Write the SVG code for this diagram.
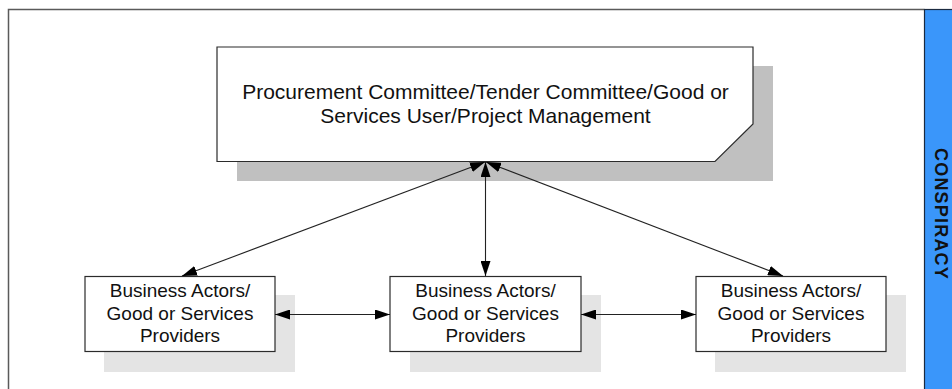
<svg xmlns="http://www.w3.org/2000/svg" width="952" height="389" viewBox="0 0 952 389">
<defs>
<style>
.node{fill:#fff;stroke:#2b2b2b;stroke-width:1.2}
.sh1{fill:#c0c0c0}
.sh2{fill:#e4e4e4}
.t{font-family:"Liberation Sans",Arial,sans-serif;fill:#111;text-anchor:middle}
.big{font-size:21px}
.small{font-size:19px}
.conn line{stroke:#222;stroke-width:1.1;marker-start:url(#ah);marker-end:url(#ah)}
</style>
<marker id="ah" viewBox="0 0 15 10" refX="15" refY="5" markerWidth="15" markerHeight="10" orient="auto-start-reverse" markerUnits="userSpaceOnUse">
<path d="M0,0 L15,5 L0,10 z" fill="#000"/>
</marker>
</defs>
<rect width="952" height="389" fill="#fff"/>
<g id="frame">
<path d="M8.5,395 V9.5 H924.5" fill="none" stroke="#5a5a5a" stroke-width="1.5"/>
<rect x="924.5" y="9.5" width="40" height="390" fill="#3a96fa" stroke="#1b2a40" stroke-width="1.2"/>
<text class="t" x="941" y="214" font-size="18" font-weight="bold" letter-spacing="1.2" fill="#1a1f3a" dominant-baseline="central" transform="rotate(90 941 214)">CONSPIRACY</text>
</g>
<g id="committee">
<rect class="sh1" x="237" y="66" width="536" height="115"/>
<path class="node" d="M217,47 H753 V124 L715,161.5 H217 Z"/>
<text class="t big" x="485.5" y="98.5">Procurement Committee/Tender Committee/Good or</text>
<text class="t big" x="485.5" y="122.5">Services User/Project Management</text>
</g>
<g id="provider-left">
<rect class="sh2" x="104" y="295" width="191" height="77"/>
<rect class="node" x="85" y="276.5" width="190" height="75"/>
<text class="t small" x="180" y="297">Business Actors/</text>
<text class="t small" x="180" y="319.5">Good or Services</text>
<text class="t small" x="180" y="342">Providers</text>
</g>
<g id="provider-middle">
<rect class="sh2" x="410" y="295" width="191" height="77"/>
<rect class="node" x="390" y="276.5" width="191" height="75"/>
<text class="t small" x="485.5" y="297">Business Actors/</text>
<text class="t small" x="485.5" y="319.5">Good or Services</text>
<text class="t small" x="485.5" y="342">Providers</text>
</g>
<g id="provider-right">
<rect class="sh2" x="715" y="295" width="191" height="77"/>
<rect class="node" x="696" y="276.5" width="190" height="75"/>
<text class="t small" x="791" y="297">Business Actors/</text>
<text class="t small" x="791" y="319.5">Good or Services</text>
<text class="t small" x="791" y="342">Providers</text>
</g>
<g id="connectors" class="conn">
<line x1="485" y1="162" x2="182" y2="276"/>
<line x1="485.5" y1="162" x2="485.5" y2="276"/>
<line x1="486" y1="162" x2="783" y2="276"/>
<line x1="275" y1="314.5" x2="390" y2="314.5"/>
<line x1="581" y1="314.5" x2="696" y2="314.5"/>
</g>
</svg>
